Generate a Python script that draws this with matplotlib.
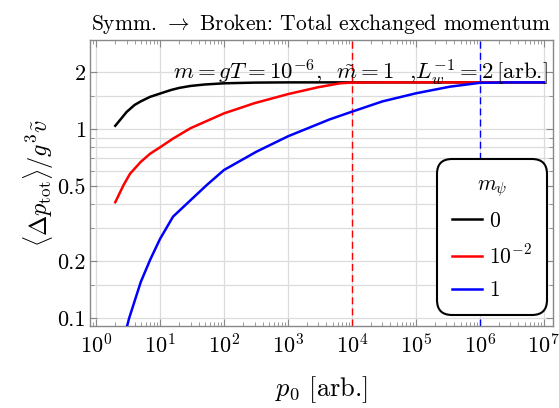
import numpy as np
import matplotlib
matplotlib.use("Agg")
import matplotlib.pyplot as plt
from matplotlib.ticker import FixedLocator, NullFormatter, LogLocator, LogFormatterSciNotation

plt.rcParams['font.family'] = ['cmr10', 'DejaVu Serif']
plt.rcParams['mathtext.fontset'] = 'cm'
plt.rcParams['axes.formatter.use_mathtext'] = True
plt.rcParams['axes.unicode_minus'] = False

# Data (p0 in arb. units)
p0_black = [2, 2.5, 3, 4, 5, 7, 10, 15, 20, 30, 50, 100, 300, 1e3, 1e4, 1e5, 1e6, 1e7]
m_psi_0 = [1.04, 1.14, 1.23, 1.34, 1.40, 1.48, 1.54, 1.61, 1.65, 1.69, 1.72, 1.745, 1.76, 1.765, 1.765, 1.765, 1.765, 1.765]

p0_red = [2, 2.7, 3.4, 5, 7, 10, 16, 30, 100, 300, 1e3, 3e3, 6.5e3, 1e4, 3e4, 1e5, 1e6, 1e7]
m_psi_1em2 = [0.41, 0.506, 0.58, 0.67, 0.74, 0.80, 0.89, 1.01, 1.21, 1.37, 1.53, 1.665, 1.745, 1.76, 1.765, 1.765, 1.765, 1.765]

p0_blue = [2, 2.5, 3.3, 5, 7, 10, 16, 30, 54, 100, 320, 1e3, 4.5e3, 1e4, 3e4, 1e5, 3.4e5, 1e6, 3e6, 1e7]
m_psi_1 = [0.051, 0.07, 0.10, 0.155, 0.203, 0.262, 0.344, 0.42, 0.506, 0.607, 0.758, 0.915, 1.125, 1.235, 1.40, 1.545, 1.675, 1.755, 1.765, 1.765]

labels = [r"$0$", r"$10^{-2}$", r"$1$"]
colors = ["black", "red", "blue"]
vlines = [1e4, 1e6]
vline_colors = ["red", "blue"]

xticks = [1e0, 1e1, 1e2, 1e3, 1e4, 1e5, 1e6, 1e7]
yticks = [0.1, 0.2, 0.5, 1, 2]
ytick_labels = ["0.1", "0.2", "0.5", "1", "2"]
yminor = [0.15, 0.3, 0.4, 0.6, 0.7, 0.8, 0.9, 1.5]

fig = plt.figure(figsize=(5.59, 4.08), dpi=100)
ax = fig.add_axes([0.161, 0.201, 0.828, 0.701])

ax.set_xscale('log')
ax.set_yscale('log')
ax.set_xlim(10**-0.094, 10**7.14)
ax.set_ylim(10**-1.042, 10**0.471)

for (xs, ys), c, lab in zip([(p0_black, m_psi_0), (p0_red, m_psi_1em2), (p0_blue, m_psi_1)], colors, labels):
    ax.plot(xs, ys, color=c, lw=1.8, label=lab, zorder=3, solid_joinstyle='round')

for xv, c in zip(vlines, vline_colors):
    ax.axvline(xv, color=c, lw=1.0, ls=(0, (5, 3)), zorder=2)

ax.yaxis.set_major_locator(FixedLocator(yticks))
ax.set_yticklabels(ytick_labels)
ax.yaxis.set_minor_locator(FixedLocator(yminor))
ax.yaxis.set_minor_formatter(NullFormatter())

ax.xaxis.set_major_locator(FixedLocator(xticks))
ax.xaxis.set_major_formatter(LogFormatterSciNotation())
ax.xaxis.set_minor_locator(LogLocator(base=10, subs=np.arange(2, 10), numticks=100))
ax.xaxis.set_minor_formatter(NullFormatter())

ax.grid(True, which='major', axis='x', color='#dcdcdc', lw=0.9, zorder=0)
ax.grid(True, which='both', axis='y', color='#dcdcdc', lw=0.9, zorder=0)
ax.set_axisbelow(True)

for s in ax.spines.values():
    s.set_color('#888888')
    s.set_linewidth(1.0)
ax.tick_params(which='both', direction='in', top=True, right=True, color='#888888', labelsize=16)
ax.tick_params(which='major', length=5, width=0.8)
ax.tick_params(which='minor', length=3, width=0.6)
ax.tick_params(axis='x', pad=5)
ax.tick_params(axis='y', pad=3)

ax.set_title(r"Symm. $\rightarrow$ Broken: Total exchanged momentum", fontsize=15.5, pad=7)
ax.set_xlabel(r"$p_0$ [arb.]", fontsize=19, labelpad=12)
ax.set_ylabel(r"$\langle\Delta p_{\rm tot}\rangle/g^3\tilde{v}$", fontsize=17.5, labelpad=1)

ax.text(0.988, 0.885, r"$m=gT=10^{-6}$,  $\tilde{m}=1$  ,$L_w^{-1}=2\,$[arb.]",
        transform=ax.transAxes, ha='right', va='center', fontsize=16.5, zorder=4)

leg = ax.legend(title=r"$m_\psi$", loc='lower right', bbox_to_anchor=(0.987, 0.038),
                fontsize=15.5, title_fontsize=15.5, frameon=True, fancybox=True,
                handlelength=1.4, labelspacing=0.6, borderpad=0.7, handletextpad=0.3,
                borderaxespad=0, alignment='center')
fr = leg.get_frame()
fr.set_edgecolor('black')
fr.set_linewidth(1.5)
fr.set_alpha(1.0)
fr.set_boxstyle('round,pad=0,rounding_size=0.7')
leg.set_zorder(5)

fig.savefig("out.png", dpi=100)
